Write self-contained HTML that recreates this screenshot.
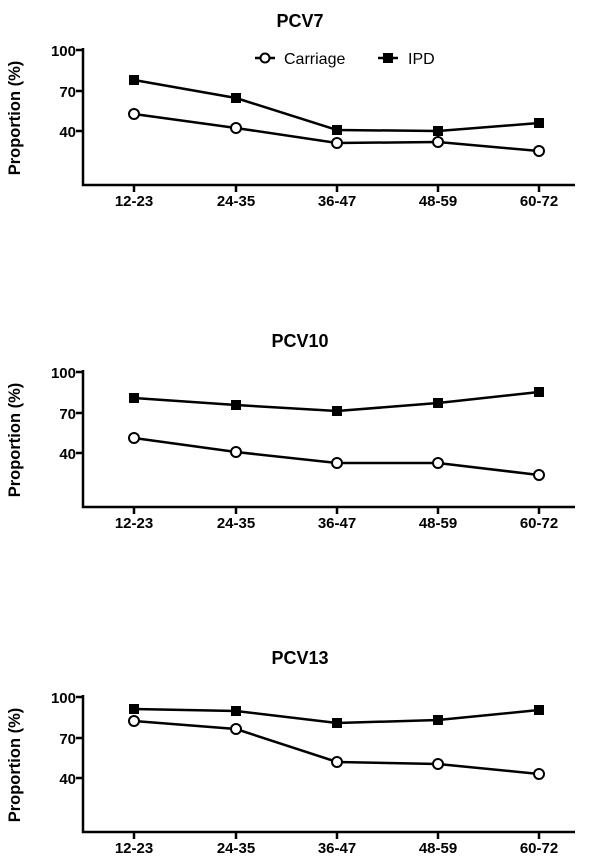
<!DOCTYPE html><html><head><style>body{margin:0;background:#fff}svg text{font-family:"Liberation Sans",Arial,sans-serif;font-weight:bold;fill:#000}</style></head><body>
<svg width="600" height="860" xmlns="http://www.w3.org/2000/svg">
<defs>
<g id="axes" stroke="#000" stroke-width="2.5" fill="none">
<path d="M83,48 V185 H575"/>
<path d="M76,50 H83 M76,91 H83 M76,131 H83"/>
<path d="M134,185 V192 M236,185 V192 M337,185 V192 M438,185 V192 M539,185 V192"/>
</g>
<g id="lbl" font-size="15">
<text x="76" y="56" text-anchor="end">100</text>
<text x="76" y="97" text-anchor="end">70</text>
<text x="76" y="137" text-anchor="end">40</text>
<g text-anchor="middle"><text x="134" y="206">12-23</text><text x="236" y="206">24-35</text><text x="337" y="206">36-47</text><text x="438" y="206">48-59</text><text x="539" y="206">60-72</text></g>
<text transform="translate(20,118) rotate(-90)" font-size="16.5" text-anchor="middle">Proportion (%)</text>
</g>
</defs>
<text x="300" y="27" font-size="18" text-anchor="middle">PCV7</text>
<use href="#axes"/><use href="#lbl"/>
<g stroke="#000" stroke-width="2.5" fill="none">
<polyline points="134,80 236,98 337,130 438,131 539,123"/>
<polyline points="134,114 236,128 337,143 438,142 539,151"/>
</g>
<g fill="#000"><rect x="129" y="75" width="10" height="10"/><rect x="231" y="93" width="10" height="10"/><rect x="332" y="125" width="10" height="10"/><rect x="433" y="126" width="10" height="10"/><rect x="534" y="118" width="10" height="10"/></g>
<g fill="#fff" stroke="#000" stroke-width="2"><circle cx="134" cy="114" r="5"/><circle cx="236" cy="128" r="5"/><circle cx="337" cy="143" r="5"/><circle cx="438" cy="142" r="5"/><circle cx="539" cy="151" r="5"/></g>
<path d="M255,58 H275 M378,58 H398" stroke="#000" stroke-width="2.5"/>
<circle cx="265" cy="58" r="4.5" fill="#fff" stroke="#000" stroke-width="2"/>
<rect x="383" y="53" width="10" height="10" fill="#000"/>
<text x="284" y="64" font-size="16" style="font-weight:normal">Carriage</text>
<text x="408" y="64" font-size="16" style="font-weight:normal">IPD</text>

<g transform="translate(0,322)">
<text x="300" y="25" font-size="18" text-anchor="middle">PCV10</text>
<use href="#axes"/><use href="#lbl"/>
<g stroke="#000" stroke-width="2.5" fill="none">
<polyline points="134,76 236,83 337,89 438,81 539,70"/>
<polyline points="134,116 236,130 337,141 438,141 539,153"/>
</g>
<g fill="#000"><rect x="129" y="71" width="10" height="10"/><rect x="231" y="78" width="10" height="10"/><rect x="332" y="84" width="10" height="10"/><rect x="433" y="76" width="10" height="10"/><rect x="534" y="65" width="10" height="10"/></g>
<g fill="#fff" stroke="#000" stroke-width="2"><circle cx="134" cy="116" r="5"/><circle cx="236" cy="130" r="5"/><circle cx="337" cy="141" r="5"/><circle cx="438" cy="141" r="5"/><circle cx="539" cy="153" r="5"/></g>
</g>

<g transform="translate(0,647)">
<text x="300" y="17" font-size="18" text-anchor="middle">PCV13</text>
<use href="#axes"/><use href="#lbl"/>
<g stroke="#000" stroke-width="2.5" fill="none">
<polyline points="134,62 236,64 337,76 438,73 539,63"/>
<polyline points="134,74 236,82 337,115 438,117 539,127"/>
</g>
<g fill="#000"><rect x="129" y="57" width="10" height="10"/><rect x="231" y="59" width="10" height="10"/><rect x="332" y="71" width="10" height="10"/><rect x="433" y="68" width="10" height="10"/><rect x="534" y="58" width="10" height="10"/></g>
<g fill="#fff" stroke="#000" stroke-width="2"><circle cx="134" cy="74" r="5"/><circle cx="236" cy="82" r="5"/><circle cx="337" cy="115" r="5"/><circle cx="438" cy="117" r="5"/><circle cx="539" cy="127" r="5"/></g>
</g>
</svg></body></html>
